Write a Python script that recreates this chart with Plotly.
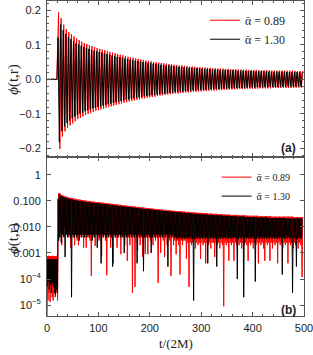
import numpy as np
import plotly.graph_objects as go

# ---------------- data ----------------
# alpha_bar = 0.89 (red): small oscillation before t~20 (signed extrema and |phi| minima)
t_red_early_peaks = [1, 3, 5, 7, 9, 11, 13, 15, 17, 19]
red_early_peaks = [7.6e-4, -7.8e-4, 7.5e-4, -7.7e-4, 7.6e-4, -7.8e-4, 7.6e-4, -7.7e-4, 7.5e-4, -7.8e-4]
t_red_early_dips = [0, 2, 4, 6, 8, 10, 12, 14, 16, 18, 20.5]
red_early_dips = [1e-6, 1.5e-5, 3e-5, 1.3e-5, 4e-5, 2e-5, 1.5e-5, 6e-5, 2e-5, 3e-5, 1.5e-5]

# ringdown extrema (signed), every 2.5 time units from t = 22.5
t_red_peaks = np.arange(22.5, 498, 2.5)
red_peaks = [
    0.193, -0.201, 0.176, -0.165, 0.158, -0.150, 0.145, -0.140, 0.136, -0.133,
    0.130, -0.127, 0.124, -0.121, 0.118, -0.115, 0.113, -0.111, 0.109, -0.107,
    0.105, -0.103, 0.102, -0.100, 0.099, -0.097, 0.096, -0.094, 0.093, -0.091,
    0.090, -0.089, 0.088, -0.087, 0.086, -0.085, 0.084, -0.082, 0.081, -0.080,
    0.079, -0.078, 0.077, -0.076, 0.075, -0.074, 0.073, -0.072, 0.071, -0.070,
    0.069, -0.068, 0.067, -0.066, 0.065, -0.064, 0.063, -0.062, 0.062, -0.061,
    0.060, -0.059, 0.059, -0.058, 0.057, -0.056, 0.056, -0.055, 0.054, -0.053,
    0.053, -0.052, 0.052, -0.051, 0.050, -0.050, 0.049, -0.048, 0.048, -0.047,
    0.047, -0.046, 0.046, -0.045, 0.045, -0.044, 0.044, -0.043, 0.043, -0.042,
    0.042, -0.041, 0.041, -0.041, 0.040, -0.040, 0.040, -0.039, 0.039, -0.038,
    0.038, -0.038, 0.037, -0.037, 0.037, -0.036, 0.036, -0.036, 0.035, -0.035,
    0.035, -0.035, 0.034, -0.034, 0.034, -0.034, 0.033, -0.033, 0.033, -0.033,
    0.032, -0.032, 0.032, -0.032, 0.031, -0.031, 0.031, -0.031, 0.031, -0.030,
    0.030, -0.030, 0.030, -0.030, 0.029, -0.029, 0.029, -0.029, 0.029, -0.029,
    0.028, -0.028, 0.028, -0.028, 0.028, -0.028, 0.028, -0.027, 0.027, -0.027,
    0.027, -0.027, 0.027, -0.027, 0.027, -0.027, 0.026, -0.026, 0.026, -0.026,
    0.026, -0.026, 0.026, -0.026, 0.026, -0.026, 0.025, -0.025, 0.025, -0.025,
    0.025, -0.025, 0.025, -0.025, 0.025, -0.025, 0.025, -0.025, 0.025, -0.025,
    0.025, -0.025, 0.025, -0.024, 0.024, -0.024, 0.024, -0.024, 0.024, -0.024, 0.024,
]
# |phi| minima between the extrema (log panel)
t_red_dips = np.arange(23.75, 497, 2.5)
red_dips = [
    0.004, 0.006, 0.002, 0.005, 0.009, 0.01, 0.006, 0.004, 0.005, 0.0016,
    0.005, 0.004, 0.002, 0.005, 0.003, 0.002, 0.005, 0.004, 0.005, 0.0016,
    0.004, 0.0016, 0.005, 0.004, 0.003, 0.00013, 0.005, 0.004, 0.0019, 0.005,
    0.004, 0.003, 0.005, 0.0008, 0.004, 0.005, 0.003, 0.00014, 0.004, 0.005,
    0.0016, 0.004, 0.0004, 0.005, 0.004, 0.0016, 0.004, 0.005, 0.0009, 0.004,
    0.005, 0.002, 0.004, 0.0005, 0.004, 0.002, 0.004, 0.00003, 0.004, 0.00005,
    0.004, 0.0012, 0.004, 0.002, 0.004, 0.0007, 0.004, 0.0009, 0.004, 0.0009,
    0.004, 0.003, 0.004, 0.002, 0.004, 0.003, 0.004, 0.00007, 0.004, 0.001,
    0.004, 0.003, 0.0007, 0.004, 0.002, 0.004, 0.003, 0.00013, 0.004, 0.002,
    0.003, 0.0009, 0.003, 0.002, 0.00015, 0.003, 0.002, 0.003, 0.003, 0.0006,
    0.0025, 0.00005, 0.0025, 0.002, 0.0025, 0.003, 0.0015, 0.0025, 0.002, 0.0025,
    0.0006, 0.0025, 0.002, 0.0025, 0.0004, 0.0025, 0.002, 0.0025, 0.0015, 0.0025,
    0.0025, 0.0007, 0.0025, 0.002, 0.0025, 0.0015, 0.0025, 0.002, 0.000009, 0.0025,
    0.002, 0.0025, 0.0005, 0.0025, 0.002, 0.0025, 0.0005, 0.0025, 0.002, 0.0025,
    0.002, 0.0025, 0.0015, 0.0025, 0.002, 0.0025, 0.002, 0.0005, 0.0025, 0.002,
    0.0025, 0.0015, 0.0025, 0.002, 0.0025, 0.0004, 0.0025, 0.002, 0.0025, 0.0015,
    0.0005, 0.0025, 0.002, 0.0025, 0.0005, 0.0025, 0.0015, 0.0025, 0.002, 0.0025,
    0.0004, 0.0025, 0.002, 0.0025, 0.0015, 0.0025, 0.002, 0.0025, 0.0004, 0.0025,
    0.002, 0.0025, 0.0015, 0.0025, 0.002, 0.0025, 0.0015, 0.0025, 0.002, 0.00012,
]

# alpha_bar = 1.30 (black)
t_blk_early_peaks = [1.5, 3.5, 5.5, 7.5, 9.5, 11.5, 13.5, 15.5, 17.5, 19.5]
blk_early_peaks = [5.8e-4, -5.6e-4, 5.7e-4, -5.8e-4, 5.6e-4, -5.7e-4, 5.8e-4, -5.6e-4, 5.7e-4, -5.8e-4]
t_blk_early_dips = [0.5, 2.5, 4.5, 6.5, 8.5, 10.5, 12.5, 14.5, 16.5, 18.5, 20.5]
blk_early_dips = [5e-5, 8e-5, 4e-5, 6e-5, 3e-5, 7e-5, 5e-5, 3e-5, 2.5e-5, 4e-5, 3e-5]

t_blk_peaks = np.arange(21.5, 497, 2.5)
blk_peaks = [
    0.120, -0.181, 0.158, -0.150, 0.142, -0.136, 0.131, -0.126, 0.122, -0.119,
    0.116, -0.113, 0.110, -0.108, 0.105, -0.103, 0.101, -0.099, 0.097, -0.096,
    0.094, -0.092, 0.091, -0.089, 0.088, -0.087, 0.085, -0.084, 0.083, -0.082,
    0.081, -0.080, 0.079, -0.078, 0.077, -0.076, 0.075, -0.074, 0.073, -0.072,
    0.071, -0.070, 0.069, -0.068, 0.067, -0.066, 0.065, -0.064, 0.064, -0.063,
    0.062, -0.061, 0.060, -0.059, 0.058, -0.058, 0.057, -0.056, 0.055, -0.055,
    0.054, -0.053, 0.053, -0.052, 0.051, -0.051, 0.050, -0.049, 0.049, -0.048,
    0.048, -0.047, 0.047, -0.046, 0.045, -0.045, 0.044, -0.044, 0.043, -0.043,
    0.042, -0.042, 0.041, -0.041, 0.040, -0.040, 0.040, -0.039, 0.039, -0.038,
    0.038, -0.037, 0.037, -0.037, 0.036, -0.036, 0.036, -0.035, 0.035, -0.034,
    0.034, -0.034, 0.033, -0.033, 0.033, -0.032, 0.032, -0.032, 0.032, -0.031,
    0.031, -0.031, 0.031, -0.030, 0.030, -0.030, 0.030, -0.029, 0.029, -0.029,
    0.029, -0.029, 0.028, -0.028, 0.028, -0.028, 0.028, -0.027, 0.027, -0.027,
    0.027, -0.027, 0.027, -0.026, 0.026, -0.026, 0.026, -0.026, 0.026, -0.025,
    0.025, -0.025, 0.025, -0.025, 0.025, -0.025, 0.024, -0.024, 0.024, -0.024,
    0.024, -0.024, 0.024, -0.024, 0.023, -0.023, 0.023, -0.023, 0.023, -0.023,
    0.023, -0.023, 0.023, -0.023, 0.022, -0.022, 0.022, -0.022, 0.022, -0.022,
    0.022, -0.022, 0.022, -0.022, 0.022, -0.022, 0.022, -0.021, 0.021, -0.021,
    0.021, -0.021, 0.021, -0.021, 0.021, -0.021, 0.021, -0.021, 0.021, -0.021, 0.021,
]
t_blk_dips = np.arange(22.75, 496, 2.5)
blk_dips = [
    0.003, 0.004, 0.0025, 0.005, 0.004, 0.0007, 0.005, 0.004, 0.005, 0.004,
    0.00002, 0.005, 0.004, 0.005, 0.004, 0.005, 0.003, 0.005, 0.004, 0.005,
    0.004, 0.005, 0.004, 0.005, 0.004, 0.005, 0.003, 0.005, 0.004, 0.005,
    0.0016, 0.005, 0.004, 0.0004, 0.005, 0.004, 0.005, 0.004, 0.005, 0.004,
    0.005, 0.004, 0.0003, 0.005, 0.004, 0.005, 0.004, 0.005, 0.004, 0.005,
    0.004, 0.001, 0.005, 0.004, 0.005, 0.004, 0.005, 0.004, 0.005, 0.004,
    0.005, 0.0004, 0.005, 0.004, 0.005, 0.004, 0.0002, 0.004, 0.005, 0.004,
    0.005, 0.004, 0.001, 0.004, 0.005, 0.004, 0.005, 0.004, 0.005, 0.004,
    0.005, 0.004, 0.005, 0.004, 0.005, 0.0003, 0.004, 0.005, 0.004, 0.005,
    0.004, 0.004, 0.0035, 0.004, 0.0035, 0.004, 0.0035, 0.004, 0.0035, 0.004,
    0.0035, 0.004, 0.0035, 0.004, 0.0035, 0.000015, 0.0035, 0.004, 0.0035, 0.004,
    0.0035, 0.004, 0.0035, 0.004, 0.0035, 0.004, 0.0004, 0.004, 0.0035, 0.004,
    0.0035, 0.004, 0.0035, 0.0003, 0.0035, 0.004, 0.0035, 0.004, 0.0035, 0.004,
    0.0035, 0.004, 0.0035, 0.004, 0.0035, 0.004, 0.0035, 0.004, 0.0035, 0.0001,
    0.0035, 0.004, 0.0035, 0.004, 0.00002, 0.004, 0.0035, 0.004, 0.0035, 0.004,
    0.0035, 0.004, 0.0035, 0.00008, 0.0035, 0.004, 0.0035, 0.004, 0.0035, 0.004,
    0.0035, 0.004, 0.0035, 0.004, 0.0035, 0.004, 0.0035, 0.004, 0.0035, 0.004,
    0.0035, 0.004, 0.0035, 0.004, 0.00015, 0.004, 0.0035, 0.004, 0.0035, 0.004,
    0.0035, 0.004, 0.00003, 0.004, 0.0035, 0.0003, 0.0035, 0.004, 0.0035, 0.004,
]

series_names = ["\u03b1\u0304 = 0.89", "\u03b1\u0304 = 1.30"]
series_colors = ["#ff0000", "#000000"]

x_ticks = [0, 100, 200, 300, 400, 500]
top_ticks = [-0.2, -0.1, 0.0, 0.1, 0.2]
top_ticktext = ["\u22120.2", "\u22120.1", "0.0", "0.1", "0.2"]
log_ticks = [1e-5, 1e-4, 1e-3, 1e-2, 1e-1, 1]
log_ticktext = ["10<sup>\u22125</sup>", "10<sup>\u22124</sup>", "0.001", "0.010", "0.100", "1"]

assert len(t_red_peaks) == len(red_peaks), (len(t_red_peaks), len(red_peaks))
assert len(t_red_dips) == len(red_dips), (len(t_red_dips), len(red_dips))
assert len(t_blk_peaks) == len(blk_peaks), (len(t_blk_peaks), len(blk_peaks))
assert len(t_blk_dips) == len(blk_dips), (len(t_blk_dips), len(blk_dips))


def signed_series(t_early, v_early, t_main, v_main):
    t = np.concatenate([np.asarray(t_early, float), np.asarray(t_main, float)])
    v = np.concatenate([np.asarray(v_early, float), np.asarray(v_main, float)])
    o = np.argsort(t)
    return t[o], v[o]


def abs_series(t_ep, v_ep, t_ed, v_ed, t_p, v_p, t_d, v_d):
    t = np.concatenate([np.asarray(a, float) for a in (t_ep, t_ed, t_p, t_d)])
    v = np.concatenate([np.abs(np.asarray(a, float)) for a in (v_ep, v_ed, v_p, v_d)])
    o = np.argsort(t)
    return t[o], v[o]


red_t, red_v = signed_series(t_red_early_peaks, red_early_peaks, t_red_peaks, red_peaks)
blk_t, blk_v = signed_series(t_blk_early_peaks, blk_early_peaks, t_blk_peaks, blk_peaks)
red_tl, red_vl = abs_series(t_red_early_peaks, red_early_peaks, t_red_early_dips, red_early_dips,
                            t_red_peaks, red_peaks, t_red_dips, red_dips)
blk_tl, blk_vl = abs_series(t_blk_early_peaks, blk_early_peaks, t_blk_early_dips, blk_early_dips,
                            t_blk_peaks, blk_peaks, t_blk_dips, blk_dips)

fig = go.Figure()
LW_RED, LW_BLK = 1.0, 1.0
# top panel (linear)
fig.add_trace(go.Scatter(x=red_t, y=red_v, mode="lines", line=dict(color=series_colors[0], width=LW_RED),
                         name=series_names[0], xaxis="x", yaxis="y", legend="legend"))
fig.add_trace(go.Scatter(x=blk_t, y=blk_v, mode="lines", line=dict(color=series_colors[1], width=LW_BLK),
                         name=series_names[1], xaxis="x", yaxis="y", legend="legend"))
# bottom panel (log)
fig.add_trace(go.Scatter(x=red_tl, y=red_vl, mode="lines", line=dict(color=series_colors[0], width=LW_RED),
                         name=series_names[0], xaxis="x2", yaxis="y2", legend="legend2"))
fig.add_trace(go.Scatter(x=blk_tl, y=blk_vl, mode="lines", line=dict(color=series_colors[1], width=LW_BLK),
                         name=series_names[1], xaxis="x2", yaxis="y2", legend="legend2"))

frame = "#555555"
tickfont = dict(family="Liberation Sans, Arial, sans-serif", size=11, color="#222222")
common_x = dict(range=[0, 500], showline=True, linecolor=frame, linewidth=1, mirror="allticks",
                ticks="inside", ticklen=4, tickcolor=frame, showgrid=False, zeroline=False,
                tickvals=x_ticks, minor=dict(ticks="inside", ticklen=2, dtick=20, tickcolor=frame,
                                             showgrid=False))

fig.update_layout(
    width=313, height=355,
    margin=dict(l=47, r=9, t=1, b=39),
    plot_bgcolor="white", paper_bgcolor="white",
    showlegend=True,
    xaxis=dict(common_x, domain=[0, 1], anchor="y", showticklabels=False),
    yaxis=dict(domain=[0.505, 1], anchor="x", range=[-0.224, 0.226], showline=True, linecolor=frame,
               linewidth=1, mirror="allticks", ticks="inside", ticklen=4, tickcolor=frame,
               showgrid=False, zeroline=False, tickvals=top_ticks, ticktext=top_ticktext,
               tickfont=tickfont, ticklabelstandoff=3,
               minor=dict(ticks="inside", ticklen=2, dtick=0.02, tickcolor=frame, showgrid=False)),
    xaxis2=dict(common_x, domain=[0, 1], anchor="y2", tickfont=tickfont,
                ticktext=[str(v) for v in x_ticks], ticklabelstandoff=2,
                ticklabeloverflow="allow"),
    yaxis2=dict(domain=[0, 0.505], anchor="x2", type="log", range=[-5.42, 0.69], showline=True,
                linecolor=frame, linewidth=1, mirror="allticks", ticks="inside", ticklen=4,
                tickcolor=frame, showgrid=False, zeroline=False, tickvals=log_ticks,
                ticktext=log_ticktext, tickfont=tickfont, ticklabelstandoff=3),
    legend=dict(x=0.615, y=0.985, xanchor="left", yanchor="top", bgcolor="rgba(0,0,0,0)",
                font=dict(family="Liberation Serif, Times New Roman, serif", size=12, color="#222"),
                itemwidth=30, tracegroupgap=0),
    legend2=dict(x=0.66, y=0.487, xanchor="left", yanchor="top", bgcolor="rgba(0,0,0,0)",
                 font=dict(family="Liberation Serif, Times New Roman, serif", size=10, color="#222"),
                 itemwidth=30, tracegroupgap=0),
    annotations=[
        dict(text="<i>\u03d5</i>(t,r)", xref="paper", yref="paper", x=-0.128, y=0.75,
             textangle=-90, showarrow=False, xanchor="center", yanchor="middle",
             font=dict(family="Liberation Serif, Times New Roman, serif", size=15, color="#222")),
        dict(text="<i>\u03d5</i>(t,r)", xref="paper", yref="paper", x=-0.128, y=0.245,
             textangle=-90, showarrow=False, xanchor="center", yanchor="middle",
             font=dict(family="Liberation Serif, Times New Roman, serif", size=15, color="#222")),
        dict(text="t/(2M)", xref="paper", yref="paper", x=0.5, y=-0.086, showarrow=False,
             xanchor="center", yanchor="middle",
             font=dict(family="Liberation Serif, Times New Roman, serif", size=13, color="#222")),
        dict(text="<b>(a)</b>", xref="paper", yref="paper", x=0.938, y=0.533, showarrow=False,
             xanchor="center", yanchor="middle",
             font=dict(family="Liberation Sans, Arial, sans-serif", size=12, color="#222")),
        dict(text="<b>(b)</b>", xref="paper", yref="paper", x=0.94, y=0.018, showarrow=False,
             xanchor="center", yanchor="middle",
             font=dict(family="Liberation Sans, Arial, sans-serif", size=12, color="#222")),
    ],
)

fig.write_html("out.html", config={"displayModeBar": False},
               post_script="document.body.style.margin='0';")
